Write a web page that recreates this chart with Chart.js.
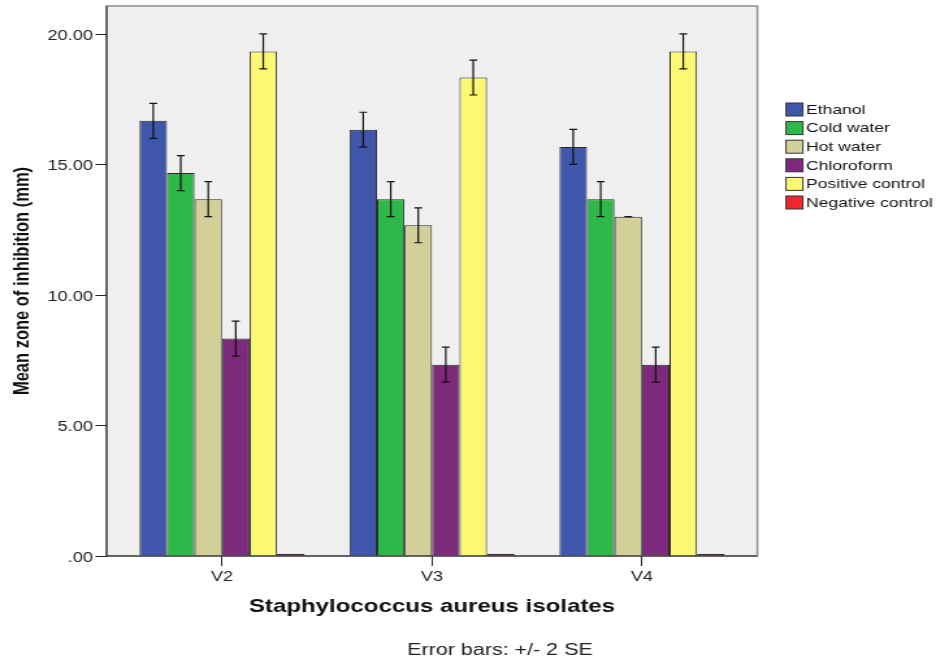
<!DOCTYPE html>
<html>
<head>
<meta charset="utf-8">
<title>Mean zone of inhibition</title>
<script src="https://cdn.jsdelivr.net/npm/chart.js@4.4.0/dist/chart.umd.min.js"></script>
<style>
    html, body { margin: 0; padding: 0; background: #fff; overflow: hidden; }
    /* the source picture is stretched sideways; draw narrow and widen it */
    #wrap { width: 723px; height: 662px; transform: scaleX(1.3); transform-origin: 0 0; }
</style>
</head>
<body>
<div id="wrap"><canvas id="chart" width="723" height="662"></canvas></div>
<script>
    'use strict';

    // ---- data ----
    const isolates = ['V2', 'V3', 'V4'];
    const seriesNames = ['Ethanol', 'Cold water', 'Hot water', 'Chloroform', 'Positive control', 'Negative control'];
    const ethanol = [16.67, 16.33, 15.67];
    const coldWater = [14.67, 13.67, 13.67];
    const hotWater = [13.67, 12.67, 13.0];
    const chloroform = [8.33, 7.33, 7.33];
    const positiveControl = [19.33, 18.33, 19.33];
    const negativeControl = [0, 0, 0];
    // +/- 2 SE
    const ethanolErr = [0.67, 0.67, 0.67];
    const coldWaterErr = [0.67, 0.67, 0.67];
    const hotWaterErr = [0.67, 0.67, 0];
    const chloroformErr = [0.67, 0.67, 0.67];
    const positiveControlErr = [0.67, 0.67, 0.67];
    const negativeControlErr = [0, 0, 0];
    const yTickValues = [0, 5, 10, 15, 20];
    const yMax = 21.07;

    const colors = ['#3e57aa', '#2fb84a', '#d3cf98', '#7d2a7d', '#fbf872', '#f0262e'];
    const seriesValues = [ethanol, coldWater, hotWater, chloroform, positiveControl, negativeControl];
    const seriesErrors = [ethanolErr, coldWaterErr, hotWaterErr, chloroformErr, positiveControlErr, negativeControlErr];

    const FONT = '"Liberation Sans", Arial, sans-serif';
    const FRAME_PAD = 8;

    const spssFrame = {
        id: 'spssFrame',
        beforeDraw(chart) {
            const { ctx, chartArea: a } = chart;
            ctx.save();
            ctx.fillStyle = '#efefef';
            ctx.fillRect(a.left - FRAME_PAD, a.top, a.width + 2 * FRAME_PAD, a.height);
            ctx.restore();
        },
        afterDatasetsDraw(chart) {
            const { ctx, chartArea: a, scales: { y } } = chart;
            const L = a.left - FRAME_PAD, R = a.right + FRAME_PAD;
            ctx.save();

            ctx.strokeStyle = '#8a8a8a';
            ctx.lineWidth = 1.5;
            ctx.strokeRect(L, a.top, R - L, a.height);

            ctx.strokeStyle = '#222';
            ctx.lineWidth = 1;
            ctx.beginPath();
            ctx.moveTo(L, a.top);
            ctx.lineTo(L, a.bottom);
            ctx.lineTo(R, a.bottom);
            y.ticks.forEach(t => {
                const py = Math.round(y.getPixelForValue(t.value)) + 0.5;
                ctx.moveTo(L - 8.5, py);
                ctx.lineTo(L, py);
            });
            ctx.stroke();

            // error bars
            ctx.strokeStyle = '#111';
            ctx.lineWidth = 1.2;
            chart.data.datasets.forEach((ds, i) => {
                const errs = seriesErrors[i];
                chart.getDatasetMeta(i).data.forEach((bar, j) => {
                    const v = ds.data[j];
                    if (v === 0) return;
                    const top = y.getPixelForValue(v + errs[j]);
                    const bot = y.getPixelForValue(v - errs[j]);
                    ctx.beginPath();
                    ctx.moveTo(bar.x, top); ctx.lineTo(bar.x, bot);
                    ctx.moveTo(bar.x - 3, top); ctx.lineTo(bar.x + 3, top);
                    ctx.moveTo(bar.x - 3, bot); ctx.lineTo(bar.x + 3, bot);
                    ctx.stroke();
                });
            });

            // legend
            ctx.font = '13.5px ' + FONT;
            ctx.textBaseline = 'middle';
            ctx.textAlign = 'left';
            chart.data.datasets.forEach((ds, i) => {
                const cy = 109.5 + i * 18.6;
                ctx.fillStyle = ds.backgroundColor;
                ctx.fillRect(604.6, cy - 6.5, 13, 13);
                ctx.strokeStyle = '#333';
                ctx.lineWidth = 1;
                ctx.strokeRect(604.6, cy - 6.5, 13, 13);
                ctx.fillStyle = '#111';
                ctx.fillText(ds.label, 620, cy + 0.5);
            });

            // footnote
            ctx.font = '16.5px ' + FONT;
            ctx.textAlign = 'center';
            ctx.fillStyle = '#222';
            ctx.fillText('Error bars: +/- 2 SE', 384.6, 650);
            ctx.restore();
        }
    };

    const datasets = seriesNames.map((name, i) => ({
        label: name,
        data: seriesValues[i],
        backgroundColor: colors[i],
        borderColor: '#2a2a2a',
        borderWidth: 1,
        borderSkipped: 'start',
        minBarLength: 2,
        categoryPercentage: 0.786,
        barPercentage: 1
    }));

    new Chart(document.getElementById('chart'), {
        type: 'bar',
        data: { labels: isolates, datasets },
        options: {
            responsive: false,
            animation: false,
            devicePixelRatio: 1,
            layout: { padding: { top: 6, right: 148.4, bottom: 0, left: 0 } },
            plugins: { legend: { display: false }, tooltip: { enabled: false } },
            scales: {
                x: {
                    offset: true,
                    afterFit(scale) {
                        scale.height = 106;
                        scale.paddingLeft = 0;
                        scale.paddingRight = 0;
                    },
                    grid: { display: true, drawOnChartArea: false, drawTicks: true, tickLength: 10, offset: false, color: '#222' },
                    border: { display: false },
                    ticks: { color: '#222', padding: 3, font: { family: FONT, size: 14 } },
                    title: {
                        display: true,
                        text: 'Staphylococcus aureus isolates',
                        color: '#111',
                        font: { family: FONT, size: 18.5, weight: 'bold' },
                        padding: { top: 0, bottom: 44 }
                    }
                },
                y: {
                    min: 0,
                    max: yMax,
                    afterFit(scale) {
                        scale.width = 90;
                        scale.paddingTop = 0;
                        scale.paddingBottom = 0;
                    },
                    afterBuildTicks(scale) { scale.ticks = yTickValues.map(v => ({ value: v })); },
                    grid: { display: false, drawTicks: false },
                    border: { display: false },
                    ticks: {
                        color: '#222',
                        padding: 18.5,
                        labelOffset: 2,
                        font: { family: FONT, size: 14 },
                        callback: v => (v === 0 ? '.00' : v.toFixed(2))
                    },
                    title: {
                        display: true,
                        text: 'Mean zone of inhibition (mm)',
                        color: '#111',
                        font: { family: FONT, size: 16.5, weight: 'bold' },
                        padding: { top: 8, bottom: 0 }
                    }
                }
            }
        },
        plugins: [spssFrame]
    });
</script>
</body>
</html>
